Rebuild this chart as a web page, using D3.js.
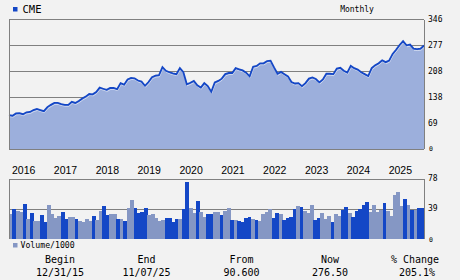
<!DOCTYPE html>
<html><head><meta charset="utf-8">
<script src="https://cdn.jsdelivr.net/npm/d3@7"></script>
<style>html,body{margin:0;padding:0;background:#f2f2f2;}svg{display:block}</style>
</head><body><svg id="c" width="460" height="280"></svg>
<script>
// ---------------- data ----------------
const ticker = "CME";
const period = "Monthly";
const startMonth = new Date(2015, 11, 1); // Dec 2015
const prices = [90.6, 89, 95, 96, 93, 98, 99, 104, 107, 104, 101, 112,
  118, 123, 123, 120, 118, 118, 126, 123, 128, 135, 140, 147,
  146, 152, 164, 161, 158, 163, 163, 160, 176, 172, 186, 190,
  189, 183, 180, 169, 179, 192, 196, 197, 219, 209, 205, 202,
  200, 216, 205, 173, 177, 182, 170, 164, 176, 168, 153, 178,
  182, 188, 200, 203, 203, 216, 213, 210, 204, 194, 220, 222,
  229, 229, 235, 236, 218, 201, 206, 200, 194, 179, 175, 176,
  168, 176, 188, 191, 187, 178, 186, 201, 201, 200, 215, 217,
  209, 204, 222, 216, 212, 205, 200, 195, 216, 224, 229, 237,
  232, 236, 254, 265, 278, 288, 277, 279, 268, 267, 268, 276.5];
const volumes = [32.4, 39, 36.4, 35, 45.6, 25.9, 33.7, 23.2, 23.2, 31.1, 21.9, 44.3,
  32.4, 27.2, 29.8, 35, 25.9, 28.5, 28.5, 25.9, 23.2, 21.9, 25.9, 23.2,
  29.8, 24.5, 36.4, 43, 31.1, 32.4, 32.4, 25.9, 25.9, 23.2, 40.3, 50.8,
  40.3, 33.7, 35, 40.3, 31.1, 32.4, 27.2, 23.2, 24.5, 27.2, 27.2, 21.9,
  25.9, 25.9, 39, 74.5, 40.3, 33.7, 49.5, 35, 28.5, 32.4, 32.4, 35,
  35.1, 31.1, 36.4, 40.3, 24.5, 24.5, 23.2, 21.9, 27.2, 28.5, 25.9, 24.5,
  23.2, 32.4, 35.1, 39, 27.2, 33.7, 32.4, 24.5, 27.2, 28.5, 39, 43,
  41.6, 36.4, 33.7, 44.3, 24.5, 27.2, 33.7, 25.9, 29.8, 21.9, 32.4, 29.8,
  37.7, 41.6, 33.7, 28.5, 36.4, 39, 44.3, 48.2, 35.1, 44.3, 35.1, 37.7,
  46.9, 36.4, 29.8, 57.4, 61.4, 43, 52.2, 44.3, 37.7, 37.7, 40.3, 40.3];
// month direction per year-row: "u" = up month, "d" = down month
const direction = [
  "uduududuuddu", "uuudduuduuuu", "duudduududuu", "dddduuuuuddd", "dudduuduuddu",
  "uduududdddud", "uuuudduddddu", "duuudduuuduu", "dduddddduuuu", "duuuuudududd"
].join("").split("");
const priceTicks = [0, 69, 138, 208, 277, 346];
const volTicks = [0, 39, 78];
const summaryHeaders = ["Begin", "End", "From", "Now", "% Change"];
const summaryValues = ["12/31/15", "11/07/25", "90.600", "276.50", "205.1%"];
const volumeLabel = "Volume/1000";

// ---------------- drawing ----------------
const svg = d3.select("#c");
const mono = "'DejaVu Sans Mono', monospace";
const sans = "'Liberation Sans', Arial, sans-serif";
const blue = "#1447c6", light = "#8597c4", areaFill = "#9cafdc", frame = "#808080";

const L = 9, R = 424, T = 19.5, B = 149;
const VT = 179.3, VB = 238.7;
const n = prices.length;
const dates = d3.range(n).map(i => d3.timeMonth.offset(startMonth, i));

const x = d3.scaleLinear().domain([0, n - 1]).range([L, R]);
const y = d3.scaleLinear().domain([0, 346]).range([B, T]);
const xb = d3.scaleBand().domain(d3.range(n)).range([L, R]).paddingInner(0);
const yv = d3.scaleLinear().domain([0, 78]).range([VB, VT]);

// title / legend
svg.append("rect").attr("x", 13).attr("y", 7).attr("width", 4.5).attr("height", 4.5).attr("fill", blue);
svg.append("text").attr("x", 22.5).attr("y", 12.5).attr("font-family", mono).attr("font-size", 10.5)
  .attr("fill", "#000").text(ticker);
svg.append("text").attr("x", 357).attr("y", 12).attr("text-anchor", "middle").attr("font-family", mono)
  .attr("font-size", 8).attr("fill", "#000").text(period);

// price grid
svg.append("g").selectAll("line").data(priceTicks.slice(1, -1)).join("line")
  .attr("x1", L).attr("x2", R).attr("y1", d => Math.round(y(d)) + 0.5).attr("y2", d => Math.round(y(d)) + 0.5)
  .attr("stroke", frame).attr("stroke-width", 1);

// area + line
const area = d3.area().x((d, i) => x(i)).y0(B).y1(d => y(d));
svg.append("path").datum(prices).attr("d", area).attr("fill", areaFill);
const line = d3.line().x((d, i) => x(i)).y(d => y(d));
svg.append("path").datum(prices).attr("d", line).attr("fill", "none")
  .attr("stroke", "#ffffff").attr("stroke-opacity", 0.5).attr("stroke-width", 1)
  .attr("transform", "translate(0.5,1.5)");
svg.append("path").datum(prices).attr("d", line).attr("fill", "none")
  .attr("stroke", blue).attr("stroke-width", 1.8).attr("stroke-linejoin", "miter");

// price frame
const fr = svg.append("g").attr("stroke", frame).attr("stroke-width", 1).attr("shape-rendering", "crispEdges");
fr.append("line").attr("x1", L).attr("x2", R).attr("y1", T).attr("y2", T);
fr.append("line").attr("x1", L).attr("x2", R).attr("y1", B).attr("y2", B);
fr.append("line").attr("x1", L).attr("x2", L).attr("y1", T).attr("y2", B);
fr.append("line").attr("x1", R).attr("x2", R).attr("y1", T).attr("y2", B);

// price axis labels (right)
svg.append("g").selectAll("text").data(priceTicks).join("text")
  .attr("x", d => d === 0 ? 429 : 428).attr("y", d => y(d)).attr("dy", "0.35em")
  .attr("font-family", mono).attr("font-size", d => d === 0 ? 6.5 : 8).attr("fill", "#000")
  .text(d => d);

// year labels
const yearIdx = d3.range(n).filter(i => dates[i].getMonth() === 0);
svg.append("g").selectAll("text").data(yearIdx).join("text")
  .attr("x", i => x(i) - 0.5).attr("y", 174).attr("font-family", sans).attr("font-size", 10.5)
  .attr("fill", "#000").text(i => dates[i].getFullYear());

// volume grid
svg.append("g").selectAll("line").data(volTicks.slice(1, -1)).join("line")
  .attr("x1", L).attr("x2", R).attr("y1", d => Math.round(yv(d)) + 0.5).attr("y2", d => Math.round(yv(d)) + 0.5)
  .attr("stroke", frame).attr("stroke-width", 1);

// volume bars
svg.append("g").attr("shape-rendering", "crispEdges").selectAll("rect").data(volumes).join("rect")
  .attr("x", (d, i) => xb(i)).attr("width", xb.bandwidth() + 0.3)
  .attr("y", d => yv(d)).attr("height", d => VB - yv(d))
  .attr("fill", (d, i) => direction[i] === "d" ? blue : light);

// volume frame
const vf = svg.append("g").attr("stroke", frame).attr("stroke-width", 1).attr("shape-rendering", "crispEdges");
vf.append("line").attr("x1", L).attr("x2", R).attr("y1", VT).attr("y2", VT);
vf.append("line").attr("x1", L).attr("x2", L).attr("y1", VT).attr("y2", VB);
vf.append("line").attr("x1", R).attr("x2", R).attr("y1", VT).attr("y2", VB);

svg.append("g").selectAll("text").data(volTicks).join("text")
  .attr("x", d => d === 0 ? 429 : 428).attr("y", d => yv(d)).attr("dy", d => d === 0 ? "0.55em" : "0.2em")
  .attr("font-family", mono).attr("font-size", d => d === 0 ? 6.5 : 8).attr("fill", "#000")
  .text(d => d);

// volume legend
svg.append("rect").attr("x", 13).attr("y", 243).attr("width", 4.5).attr("height", 4.5).attr("fill", light);
svg.append("text").attr("x", 20.5).attr("y", 248).attr("font-family", mono).attr("font-size", 8.2)
  .attr("fill", "#000").text(volumeLabel);

// summary table
const colX = [60, 146.5, 241.5, 330, 415];
svg.append("g").selectAll("text").data(summaryHeaders).join("text")
  .attr("x", (d, i) => colX[i]).attr("y", 262.5).attr("text-anchor", "middle")
  .attr("font-family", mono).attr("font-size", 10).attr("fill", "#000").text(d => d);
svg.append("g").selectAll("text").data(summaryValues).join("text")
  .attr("x", (d, i) => colX[i] + (i === 4 ? 2 : 0)).attr("y", 276).attr("text-anchor", "middle")
  .attr("font-family", mono).attr("font-size", 10).attr("fill", "#000").text(d => d);
</script></body></html>
